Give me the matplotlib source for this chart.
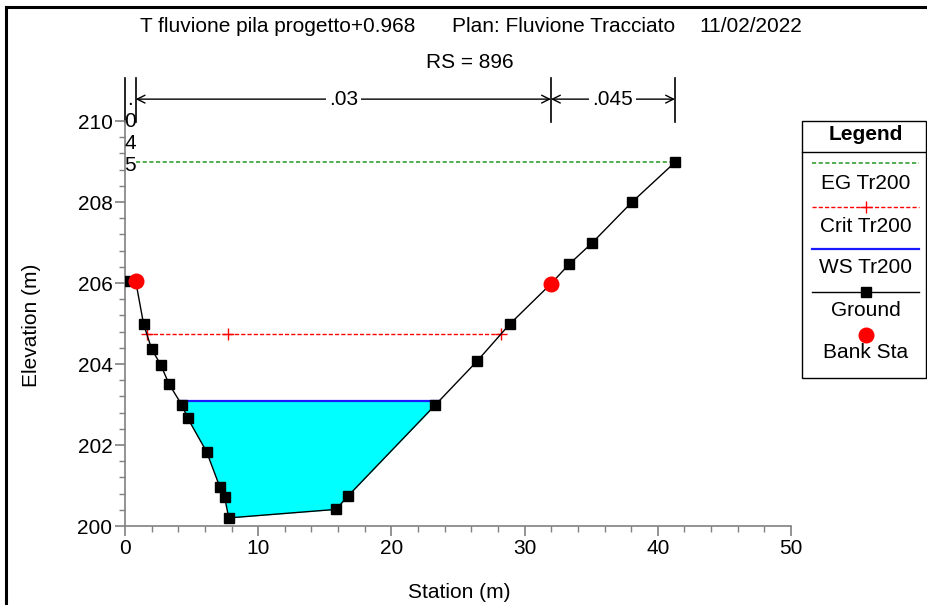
import numpy as np
import matplotlib
matplotlib.use("Agg")
import matplotlib.pyplot as plt
from matplotlib.lines import Line2D
from matplotlib.patches import Rectangle

plt.rcParams['font.family'] = ['Liberation Sans', 'DejaVu Sans']
plt.rcParams['font.size'] = 15

# ground profile (station, elevation)
ground_sta = [0, 0.80, 1.40, 2.00, 2.68, 3.30, 4.28, 4.71, 6.13, 7.11, 7.48, 7.79,
              15.84, 16.74, 23.30, 26.43, 28.90, 31.98, 33.33, 35.04, 38.04, 41.29]
ground_elev = [206.05, 206.05, 204.98, 204.37, 203.98, 203.51, 202.98, 202.66, 201.83,
               200.97, 200.71, 200.20, 200.41, 200.74, 202.99, 204.07, 204.99, 205.98,
               206.46, 206.98, 207.99, 208.98]

bank_sta = [0.80, 31.98]
bank_elev = [206.05, 205.98]

ws_elev = 203.09
crit_elev = 204.74
crit_sta = [1.63, 7.76, 28.23]
eg_elev = 208.98
eg_sta = [0.80, 41.29]

# Manning's n regions
n_bounds = [0, 0.80, 31.98, 41.29]
n_values = ['.045', '.03', '.045']

title_parts = ['T fluvione pila progetto+0.968', 'Plan: Fluvione Tracciato', '11/02/2022']
rs_label = 'RS = 896'

W, H = 928, 605
fig = plt.figure(figsize=(W / 100, H / 100), dpi=100)


def fx(px):
    return px / W


def fy(py):
    return 1 - py / H


ax = fig.add_axes([fx(125), fy(526), (791 - 125) / W, (526 - 121) / H])

gx = np.array(ground_sta)
gy = np.array(ground_elev)


def crossings(level):
    pts = []
    for i in range(len(gx) - 1):
        a, b = gy[i] - level, gy[i + 1] - level
        if a * b < 0:
            t = a / (a - b)
            pts.append(gx[i] + t * (gx[i + 1] - gx[i]))
    return pts


# water surface fill
ax.fill_between(gx, gy, ws_elev, where=gy <= ws_elev, interpolate=True,
                color='#00ffff', lw=0, zorder=1)
ws_x = crossings(ws_elev)
ax.plot([ws_x[0], ws_x[-1]], [ws_elev, ws_elev], color='#1a1aff', lw=1.6, zorder=2)

ax.plot(crit_sta, [crit_elev] * len(crit_sta), color='red', lw=1.0, ls=(0, (3, 1.5)),
        marker='+', ms=8, mew=1.0, zorder=3)
ax.plot(eg_sta, [eg_elev] * 2, color='#33a033', lw=1.2, ls=(0, (2.5, 1.5)), zorder=3)

ax.plot(gx, gy, color='black', lw=1.0, marker='s', ms=6.5, zorder=4)
ax.plot(bank_sta, bank_elev, 'o', color='red', ms=10.5, zorder=5)

ax.set_xlim(0, 50)
ax.set_ylim(200, 210)
ax.set_xticks(np.arange(0, 51, 10))
ax.set_xticks(np.arange(0, 51, 2), minor=True)
ax.set_yticks(np.arange(200, 211, 2))
ax.set_yticks(np.arange(200, 210.01, 0.4), minor=True)
ax.tick_params(which='major', length=7, color='#808080', width=1.2, pad=2)
ax.tick_params(which='minor', length=4, color='#808080', width=1.0)
for s in ['top', 'right']:
    ax.spines[s].set_visible(False)
for s in ['left', 'bottom']:
    ax.spines[s].set_color('#808080')
    ax.spines[s].set_linewidth(1.2)

fig.text(fx(459), fy(592), 'Station (m)', ha='center', va='center')
fig.text(fx(32), fy(325), 'Elevation (m)', ha='center', va='center', rotation=90)

# n-value bar above the plot
bar_y = 210.54
px_m = 405 / 10  # pixels per metre on the elevation axis
for b in n_bounds:
    ax.plot([b, b], [209.98, 211.06], color='black', lw=1.2, clip_on=False)
for i, n in enumerate(n_values):
    x0, x1 = n_bounds[i], n_bounds[i + 1]
    mid = (x0 + x1) / 2
    if x1 - x0 < 2:
        # too narrow: stack the characters vertically
        for k, ch in enumerate(n):
            ax.text(mid, bar_y - 0.02 - k * 22 / px_m, ch, ha='center', va='center',
                    clip_on=False)
        continue
    ax.annotate('', xy=(x0, bar_y), xytext=(x1, bar_y),
                arrowprops=dict(arrowstyle='<->', lw=1.0, shrinkA=0, shrinkB=0,
                                mutation_scale=14),
                annotation_clip=False)
    ax.text(mid, bar_y, n, ha='center', va='center',
            bbox=dict(boxstyle='square,pad=0.15', fc='white', ec='none'))

# title lines
fig.text(fx(140), fy(27), title_parts[0], ha='left', va='center')
fig.text(fx(452), fy(27), title_parts[1], ha='left', va='center')
fig.text(fx(699), fy(27), title_parts[2], ha='left', va='center')
fig.text(fx(470), fy(62), rs_label, ha='center', va='center')

# legend box
fig.patches.append(Rectangle((fx(802), fy(378)), fx(926) - fx(802), fy(121) - fy(378),
                             transform=fig.transFigure, fill=False, ec='black', lw=1.0))
fig.lines.append(Line2D([fx(802), fx(926)], [fy(152), fy(152)],
                        transform=fig.transFigure, color='black', lw=1.0))
fig.text(fx(866), fy(135), 'Legend', ha='center', va='center', fontweight='bold')
lx = [fx(812), fx(919)]
fig.lines.append(Line2D(lx, [fy(163)] * 2, transform=fig.transFigure,
                        color='#33a033', lw=1.2, ls=(0, (2.5, 1.5))))
fig.text(fx(866), fy(184), 'EG Tr200', ha='center', va='center')
fig.lines.append(Line2D(lx, [fy(207)] * 2, transform=fig.transFigure,
                        color='red', lw=1.0, ls=(0, (3, 1.5))))
fig.lines.append(Line2D([fx(866)], [fy(207)], transform=fig.transFigure,
                        color='red', marker='+', ms=8, mew=1.0, ls='none'))
fig.text(fx(866), fy(226), 'Crit Tr200', ha='center', va='center')
fig.lines.append(Line2D(lx, [fy(249)] * 2, transform=fig.transFigure,
                        color='#1a1aff', lw=1.6))
fig.text(fx(866), fy(268), 'WS Tr200', ha='center', va='center')
fig.lines.append(Line2D(lx, [fy(292)] * 2, transform=fig.transFigure,
                        color='black', lw=1.0))
fig.lines.append(Line2D([fx(866)], [fy(292)], transform=fig.transFigure,
                        color='black', marker='s', ms=6.5, ls='none'))
fig.text(fx(866), fy(311), 'Ground', ha='center', va='center')
fig.lines.append(Line2D([fx(866)], [fy(335)], transform=fig.transFigure,
                        color='red', marker='o', ms=10.5, ls='none'))
fig.text(fx(866), fy(353), 'Bank Sta', ha='center', va='center')

# outer frame
fig.lines.append(Line2D([fx(6.5), 1.01], [fy(7), fy(7)], transform=fig.transFigure,
                        color='black', lw=2.2))
fig.lines.append(Line2D([fx(6.5), fx(6.5)], [fy(7), -0.01], transform=fig.transFigure,
                        color='black', lw=2.2))

fig.savefig('out.png', dpi=100)
